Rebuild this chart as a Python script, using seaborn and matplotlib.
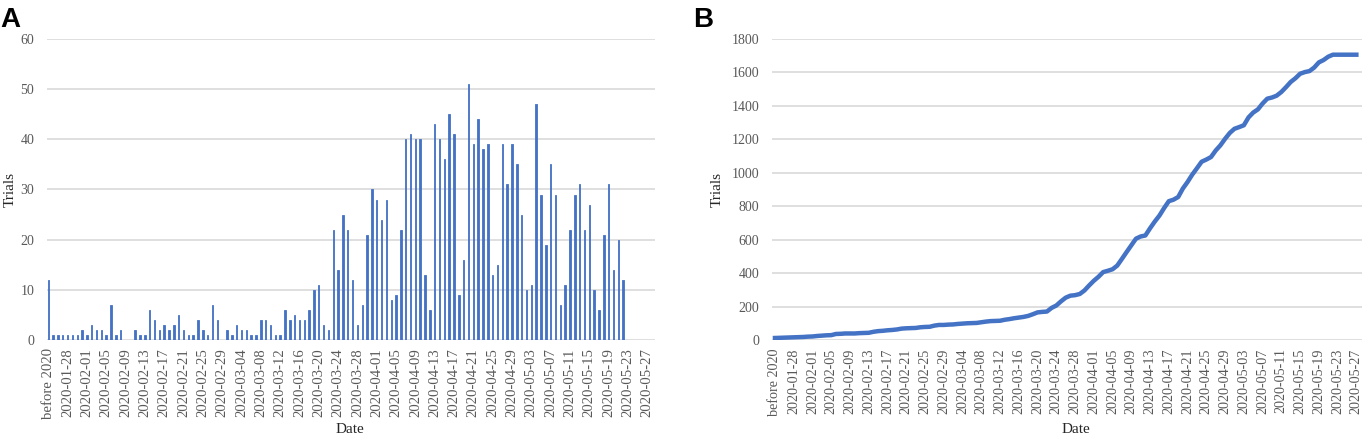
import matplotlib
matplotlib.use('Agg')
import matplotlib.pyplot as plt
import numpy as np
import pandas as pd
import seaborn as sns

blue = '#4472C4'
grid = '#D9D9D9'
tick_grey = '#595959'

# categories: one "before 2020" bucket, then each day 2020-01-25 .. 2020-05-27
days = ['before 2020'] + list(pd.date_range('2020-01-25', '2020-05-27').strftime('%Y-%m-%d'))

# trials registered per category
daily = [
    12, 1, 1, 1, 1, 1, 1, 2, 1, 3, 2, 2, 1, 7, 1, 2,
    0, 0, 2, 1, 1, 6, 4, 2, 3, 2, 3, 5, 2, 1, 1, 4, 2, 1, 7, 4,
    0, 2, 1, 3, 2, 2, 1, 1, 4, 4, 3, 1, 1, 6, 4, 5, 4, 4, 6, 10, 11, 3, 2,
    22, 14, 25, 22, 12, 3, 7, 21, 30, 28,
    24, 28, 8, 9, 22, 40, 41, 40, 40, 13,
    6, 43, 40, 36, 45, 41, 9, 16, 51, 39,
    44, 38, 39, 13, 15, 39, 31, 39, 35, 25,
    10, 11, 47, 29, 19, 35, 29, 7, 11, 22,
    29, 31, 22, 27, 10, 6, 21, 31, 14, 20,
    12, 0, 0, 0, 0, 0,
]

df = pd.DataFrame({'day': days, 'trials': daily})
df['pos'] = np.arange(len(df))
df['total'] = df['trials'].cumsum()

tick_idx = list(range(0, len(days), 4))
tick_labels = [days[i] for i in tick_idx]

plt.rcParams['font.family'] = ['Liberation Serif', 'DejaVu Serif']

fig = plt.figure(figsize=(13.68, 4.36), dpi=100)
axA = fig.add_axes([0.0341, 0.2202, 0.4447, 0.6904])
axB = fig.add_axes([0.5641, 0.2202, 0.4315, 0.6904])

# panel A: daily bars
sns.barplot(data=df, x='day', y='trials', color=blue, width=0.3,
            saturation=1, edgecolor=blue, linewidth=0.6, ax=axA, zorder=3)
axA.set_xlim(-0.33, 125.6)
axA.set_ylim(0, 60)
axA.set_yticks(range(0, 61, 10))

# panel B: cumulative line
sns.lineplot(data=df, x='pos', y='total', color=blue, lw=3.2, ax=axB, zorder=3)
axB.set_xlim(-0.7, 125.2)
axB.set_ylim(0, 1800)
axB.set_yticks(range(0, 1801, 200))

for ax, ylx, xlx, xfs in ((axA, -0.049, 0.4986, 10.6), (axB, -0.081, 0.515, 10.2)):
    for s in ax.spines.values():
        s.set_visible(False)
    ax.grid(axis='y', color=grid, lw=1.2, zorder=0)
    ax.set_axisbelow(True)
    ax.set_xticks(tick_idx)
    ax.set_xticklabels(tick_labels, rotation=90, fontsize=xfs, color=tick_grey)
    ax.tick_params(axis='x', length=0, pad=6)
    ax.tick_params(axis='y', length=0, pad=9, labelsize=10, labelcolor=tick_grey)
    ax.set_xlabel('Date', fontsize=11, color='#262626')
    ax.set_ylabel('Trials', fontsize=11, color='#262626')
    ax.xaxis.set_label_coords(xlx, -0.276)
    ax.yaxis.set_label_coords(ylx, 0.5)

fig.text(0.0, 0.985, 'A', fontsize=20, fontweight='bold', va='top', ha='left',
         family='Liberation Sans')
fig.text(0.507, 0.985, 'B', fontsize=20, fontweight='bold', va='top', ha='left',
         family='Liberation Sans')

fig.savefig('out.png', dpi=100, facecolor='white')
